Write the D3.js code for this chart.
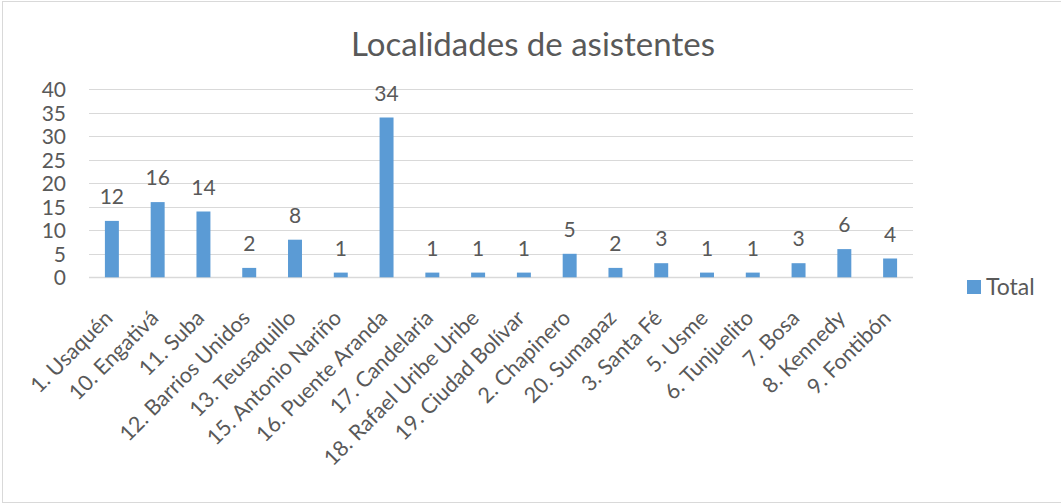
<!DOCTYPE html>
<html>
<head>
<meta charset="utf-8">
<script src="https://cdn.jsdelivr.net/npm/d3@7"></script>
<style>
  html, body { margin: 0; padding: 0; background: #fff; }
  svg { display: block; }
  text { font-family: Lato, "Open Sans", sans-serif; fill: #595959; }
</style>
</head>
<body>
<svg id="chart" width="1061" height="504"></svg>
<script>
// Localidades y número de asistentes
const categories = [
  "1. Usaquén", "10. Engativá", "11. Suba", "12. Barrios Unidos",
  "13. Teusaquillo", "15. Antonio Nariño", "16. Puente Aranda",
  "17. Candelaria", "18. Rafael Uribe Uribe", "19. Ciudad Bolívar",
  "2. Chapinero", "20. Sumapaz", "3. Santa Fé", "5. Usme",
  "6. Tunjuelito", "7. Bosa", "8. Kennedy", "9. Fontibón"
];
const totals = [12, 16, 14, 2, 8, 1, 34, 1, 1, 1, 5, 2, 3, 1, 1, 3, 6, 4];
const yTicks = [0, 5, 10, 15, 20, 25, 30, 35, 40];
const seriesName = "Total";
const chartTitle = "Localidades de asistentes";

const svg = d3.select("#chart");
const W = 1061, H = 504;
const plot = { left: 89, right: 913, top: 89.3, bottom: 277.3 };
const barColor = "#5b9bd5";
const gridColor = "#d9d9d9";

// outer frame
svg.append("rect")
  .attr("x", 2.5).attr("y", 1.5)
  .attr("width", W + 10).attr("height", 501)
  .attr("fill", "none").attr("stroke", "#d9d9d9").attr("stroke-width", 1);

const x = d3.scaleBand()
  .domain(categories)
  .range([plot.left, plot.right])
  .paddingInner(0.695)
  .paddingOuter(0.3475);

const y = d3.scaleLinear()
  .domain([0, 40])
  .range([plot.bottom, plot.top]);

// title
svg.append("text")
  .attr("x", 533).attr("y", 56)
  .attr("text-anchor", "middle")
  .style("font-size", "33px")
  .text(chartTitle);

// gridlines
svg.append("g")
  .selectAll("line")
  .data(yTicks)
  .join("line")
  .attr("x1", plot.left).attr("x2", plot.right)
  .attr("y1", d => Math.round(y(d)) + 0.5)
  .attr("y2", d => Math.round(y(d)) + 0.5)
  .attr("stroke", gridColor)
  .attr("stroke-width", d => d === 0 ? 1.5 : 1);

// y axis labels
const yAxis = d3.axisLeft(y).tickValues(yTicks).tickSize(0).tickPadding(0);
const gy = svg.append("g").attr("transform", "translate(66,0)").call(yAxis);
gy.select(".domain").remove();
gy.selectAll("text")
  .attr("dy", "0.36em")
  .style("font-size", "21px")
  .style("font-family", "Lato, 'Open Sans', sans-serif")
  .attr("fill", "#595959");

// bars
svg.append("g")
  .selectAll("rect")
  .data(totals)
  .join("rect")
  .attr("x", (d, i) => x(categories[i]))
  .attr("width", x.bandwidth())
  .attr("y", d => y(d))
  .attr("height", d => y(0) - y(d))
  .attr("fill", barColor);

// data labels
svg.append("g")
  .selectAll("text")
  .data(totals)
  .join("text")
  .attr("x", (d, i) => x(categories[i]) + x.bandwidth() / 2)
  .attr("y", d => y(d) - 17)
  .attr("text-anchor", "middle")
  .style("font-size", "21px")
  .text(d => d);

// x axis labels, rotated 45°, text centre line ending just below the tick
const xAxis = d3.axisBottom(x).tickSize(0).tickPadding(0);
const gx = svg.append("g").attr("transform", `translate(0,${plot.bottom})`).call(xAxis);
gx.select(".domain").remove();
gx.selectAll(".tick text")
  .attr("text-anchor", "end")
  .attr("transform", "translate(-3,37) rotate(-45)")
  .attr("x", 0).attr("y", 0)
  .attr("dy", "0.34em")
  .style("font-size", "21.5px")
  .style("font-family", "Lato, 'Open Sans', sans-serif")
  .attr("fill", "#595959");

// legend
const legend = svg.append("g").attr("transform", "translate(967,280)");
legend.append("rect").attr("width", 14).attr("height", 14).attr("fill", barColor);
legend.append("text").attr("x", 19).attr("y", 14.5)
  .style("font-size", "23px").text(seriesName);
</script>
</body>
</html>
